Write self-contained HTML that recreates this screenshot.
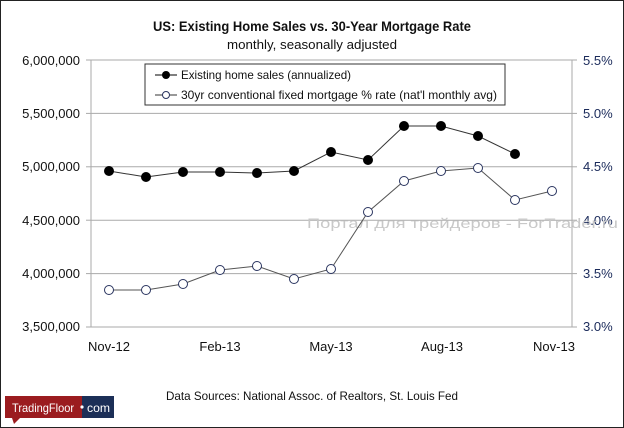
<!DOCTYPE html><html><head><style>body{margin:0;background:#fff}svg{display:block}text{font-family:"Liberation Sans",sans-serif}</style></head><body>
<svg width="624" height="428" viewBox="0 0 624 428">
<rect x="0.5" y="0.5" width="623" height="427" fill="#fff" stroke="#222"/>
<text x="312" y="31" text-anchor="middle" font-size="14" font-weight="bold" fill="#111" textLength="318" lengthAdjust="spacingAndGlyphs">US: Existing Home Sales vs. 30-Year Mortgage Rate</text>
<text x="312" y="49" text-anchor="middle" font-size="13" fill="#111" textLength="170" lengthAdjust="spacingAndGlyphs">monthly, seasonally adjusted</text>
<g stroke="#aaa" stroke-width="1">
<line x1="91" y1="60" x2="572" y2="60"/><line x1="91" y1="113.4" x2="572" y2="113.4"/><line x1="91" y1="166.8" x2="572" y2="166.8"/><line x1="91" y1="220.2" x2="572" y2="220.2"/><line x1="91" y1="273.6" x2="572" y2="273.6"/><line x1="91" y1="327" x2="572" y2="327"/>
<line x1="91" y1="60" x2="91" y2="327"/><line x1="572" y1="60" x2="572" y2="327"/>
<line x1="86" y1="60" x2="91" y2="60"/><line x1="86" y1="113.4" x2="91" y2="113.4"/><line x1="86" y1="166.8" x2="91" y2="166.8"/><line x1="86" y1="220.2" x2="91" y2="220.2"/><line x1="86" y1="273.6" x2="91" y2="273.6"/><line x1="86" y1="327" x2="91" y2="327"/>
<line x1="572" y1="60" x2="577" y2="60"/><line x1="572" y1="113.4" x2="577" y2="113.4"/><line x1="572" y1="166.8" x2="577" y2="166.8"/><line x1="572" y1="220.2" x2="577" y2="220.2"/><line x1="572" y1="273.6" x2="577" y2="273.6"/><line x1="572" y1="327" x2="577" y2="327"/>
</g>
<g font-size="13" fill="#111" text-anchor="end">
<text x="80" y="65">6,000,000</text><text x="80" y="118">5,500,000</text><text x="80" y="171">5,000,000</text><text x="80" y="225">4,500,000</text><text x="80" y="278">4,000,000</text><text x="80" y="331">3,500,000</text>
</g>
<g font-size="13" fill="#1a2a5a" text-anchor="start">
<text x="583" y="65">5.5%</text><text x="583" y="118">5.0%</text><text x="583" y="171">4.5%</text><text x="583" y="225">4.0%</text><text x="583" y="278">3.5%</text><text x="583" y="331">3.0%</text>
</g>
<g font-size="13" fill="#111" text-anchor="middle">
<text x="109" y="351">Nov-12</text><text x="220" y="351">Feb-13</text><text x="331" y="351">May-13</text><text x="442" y="351">Aug-13</text><text x="554" y="351">Nov-13</text>
</g>
<text x="307" y="228" font-size="14" fill="#c8c8c8" textLength="311" lengthAdjust="spacingAndGlyphs">Портал для трейдеров - ForTrader.ru</text>
<polyline fill="none" stroke="#555" stroke-width="1" points="109,290 146,290 183,284 220,270 257,266 294,279 331,269 368,212 404,181 441,171 478,168 515,200 552,191"/>
<g fill="#fff" stroke="#2a3560" stroke-width="1"><circle cx="109" cy="290" r="4.5"/><circle cx="146" cy="290" r="4.5"/><circle cx="183" cy="284" r="4.5"/><circle cx="220" cy="270" r="4.5"/><circle cx="257" cy="266" r="4.5"/><circle cx="294" cy="279" r="4.5"/><circle cx="331" cy="269" r="4.5"/><circle cx="368" cy="212" r="4.5"/><circle cx="404" cy="181" r="4.5"/><circle cx="441" cy="171" r="4.5"/><circle cx="478" cy="168" r="4.5"/><circle cx="515" cy="200" r="4.5"/><circle cx="552" cy="191" r="4.5"/></g>
<polyline fill="none" stroke="#333" stroke-width="1" points="109,171 146,177 183,172 220,172 257,173 294,171 331,152 368,160 404,126 441,126 478,136 515,154"/>
<g fill="#000"><circle cx="109" cy="171" r="5"/><circle cx="146" cy="177" r="5"/><circle cx="183" cy="172" r="5"/><circle cx="220" cy="172" r="5"/><circle cx="257" cy="173" r="5"/><circle cx="294" cy="171" r="5"/><circle cx="331" cy="152" r="5"/><circle cx="368" cy="160" r="5"/><circle cx="404" cy="126" r="5"/><circle cx="441" cy="126" r="5"/><circle cx="478" cy="136" r="5"/><circle cx="515" cy="154" r="5"/></g>
<rect x="145" y="64" width="360" height="41" fill="#fff" stroke="#333"/>
<line x1="155" y1="75" x2="177" y2="75" stroke="#000"/><circle cx="166" cy="75" r="4" fill="#000"/>
<text x="181" y="79" font-size="12" fill="#111" textLength="170" lengthAdjust="spacingAndGlyphs">Existing home sales (annualized)</text>
<line x1="155" y1="95" x2="177" y2="95" stroke="#333"/><circle cx="166" cy="95" r="3.5" fill="#fff" stroke="#2a3560"/>
<text x="181" y="99" font-size="12" fill="#111" textLength="316" lengthAdjust="spacingAndGlyphs">30yr conventional fixed mortgage % rate (nat'l monthly avg)</text>
<text x="312" y="400" text-anchor="middle" font-size="12" fill="#111" textLength="292" lengthAdjust="spacingAndGlyphs">Data Sources: National Assoc. of Realtors, St. Louis Fed</text>
<rect x="5" y="396" width="78" height="22" fill="#9b1c1f"/>
<path d="M12 418 L14 424 L20 418 Z" fill="#9b1c1f"/>
<rect x="82" y="396" width="32" height="22" fill="#1c2f57"/>
<circle cx="82" cy="407" r="1.6" fill="#fff"/>
<text x="12" y="412" font-size="12" fill="#fff" textLength="62" lengthAdjust="spacingAndGlyphs">TradingFloor</text>
<text x="87" y="412" font-size="12" fill="#fff" textLength="23" lengthAdjust="spacingAndGlyphs">com</text>
</svg></body></html>
